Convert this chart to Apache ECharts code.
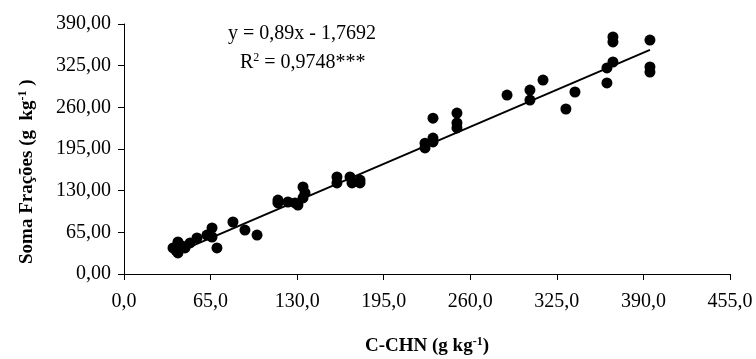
<!DOCTYPE html>
<html>
<head>
<meta charset="utf-8">
<script src="https://cdn.jsdelivr.net/npm/echarts@6/dist/echarts.min.js"></script>
<style>
  html, body { margin: 0; padding: 0; background: #fff; }
  #chart { width: 756px; height: 359px; }
</style>
</head>
<body>
<div id="chart"></div>
<script>
// C-CHN (g kg-1) vs Soma Frações (g kg-1)
const cchn = [
  36.8, 39.0, 40.5, 40.5, 43.5, 45.8, 49.6, 54.8, 62.3, 66.1, 66.1, 69.8, 81.8, 90.8, 99.9,
  115.6, 115.6, 123.1, 128.4, 130.6, 134.4, 135.9, 134.4,
  159.9, 159.9, 169.7, 171.2, 177.2, 177.2,
  226.0, 226.0, 232.0, 232.0, 232.0, 250.0, 250.0, 250.0,
  287.6, 304.8, 304.8, 314.6, 331.8, 338.6,
  362.6, 362.6, 367.1, 367.1, 367.1, 394.9, 394.9, 394.9
]
const soma = [
  40.6, 37.0, 32.8, 49.9, 43.7, 40.6, 48.4, 56.2, 60.8, 71.8, 57.7, 40.6, 81.1, 68.6, 60.8,
  115.4, 110.8, 112.3, 110.8, 107.6, 135.7, 126.4, 118.6,
  151.3, 142.0, 151.3, 142.0, 146.6, 142.0,
  204.0, 196.6, 243.0, 212.0, 206.0, 251.0, 235.6, 227.8,
  279.2, 287.0, 271.4, 302.6, 257.4, 283.9,
  321.4, 298.0, 369.7, 362.0, 330.7, 365.0, 323.0, 315.0
]
// trend line end points
const lineX = [36.8, 394.9]
const lineY = [31.0, 349.7]

const xTicks = { min: 0, max: 455, interval: 65 }
const yTicks = { min: 0, max: 390, interval: 65 }

const chart = echarts.init(document.getElementById('chart'), null, { renderer: 'canvas' })

const serif = '"Liberation Serif", "DejaVu Serif", serif'
const axisCommon = {
  axisLine: { show: true, lineStyle: { color: '#000', width: 1 } },
  axisTick: { show: true, inside: false, length: 6, lineStyle: { color: '#000' } },
  splitLine: { show: false }
}

const option = {
  backgroundColor: '#fff',
  animation: false,
  grid: { left: 124, right: 26, top: 24, bottom: 85 },
  xAxis: {
    type: 'value',
    min: xTicks.min,
    max: xTicks.max,
    interval: xTicks.interval,
    ...axisCommon,
    axisLabel: {
      color: '#000', fontFamily: serif, fontSize: 20, margin: 18,
      formatter: v => v.toFixed(1).replace('.', ',')
    }
  },
  yAxis: {
    type: 'value',
    min: yTicks.min,
    max: yTicks.max,
    interval: yTicks.interval,
    ...axisCommon,
    axisLabel: {
      color: '#000', fontFamily: serif, fontSize: 20, margin: 13,
      formatter: v => v.toFixed(2).replace('.', ',')
    }
  },
  series: [
    {
      type: 'scatter',
      data: cchn.map((x, i) => [x, soma[i]]),
      symbol: 'circle',
      symbolSize: 11,
      itemStyle: { color: '#000', opacity: 1 },
      z: 3
    },
    {
      type: 'line',
      data: lineX.map((x, i) => [x, lineY[i]]),
      showSymbol: false,
      lineStyle: { color: '#000', width: 2 },
      z: 2
    }
  ],
  graphic: [
    {
      type: 'text', left: 228, top: 24,
      style: { text: 'y = 0,89x - 1,7692', font: '20px ' + serif, fill: '#000' }
    },
    {
      type: 'text', left: 240, top: 52,
      style: {
        text: 'R{sup|2} = 0,9748***',
        font: '20px ' + serif, fill: '#000',
        rich: { sup: { fontSize: 12, fontFamily: serif, padding: [0, 0, 9, 0] } }
      }
    },
    {
      type: 'text', x: 427, y: 336,
      style: {
        text: 'C-CHN (g kg{sup|-1})',
        align: 'center',
        font: 'bold 19px ' + serif, fill: '#000',
        rich: { sup: { fontSize: 12, fontWeight: 'bold', fontFamily: serif, padding: [0, 0, 9, 0] } }
      }
    },
    {
      type: 'text', x: 17, y: 264, rotation: Math.PI / 2,
      style: {
        text: 'Soma Frações (g  kg{sup|-1} )',
        font: 'bold 19px ' + serif, fill: '#000',
        rich: { sup: { fontSize: 12, fontWeight: 'bold', fontFamily: serif, padding: [0, 0, 9, 0] } }
      }
    }
  ]
}

chart.setOption(option)
</script>
</body>
</html>
